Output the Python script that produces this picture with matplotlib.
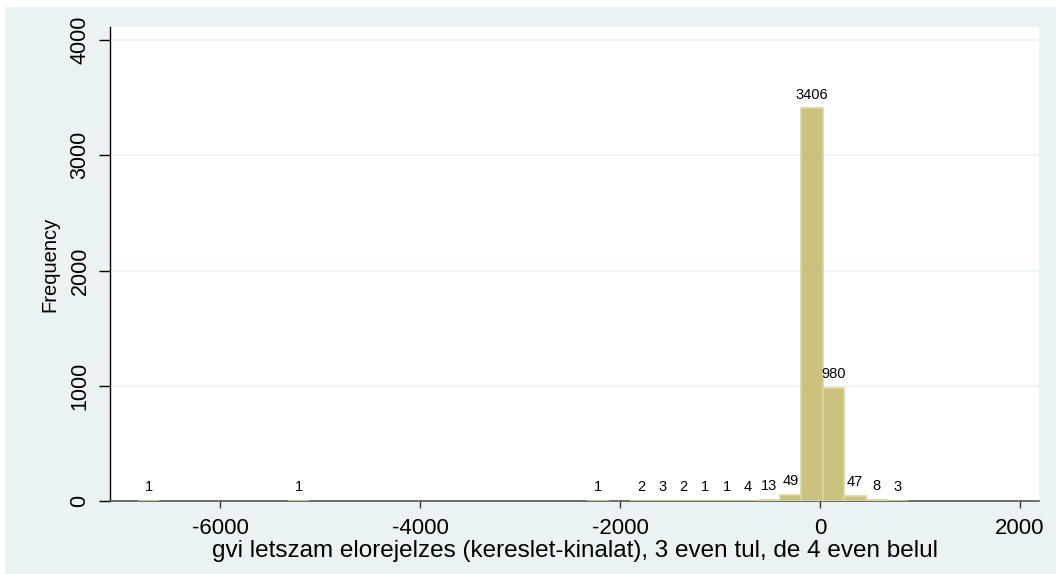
import matplotlib.pyplot as plt
import numpy as np

# Histogram data
bin_start = -6820
bin_width = 214
counts = [1, 0, 0, 0, 0, 0, 0, 1, 0, 0, 0, 0, 0, 0, 0, 0, 0, 0, 0, 0, 0,
          1, 0, 2, 3, 2, 1, 1, 4, 13, 49, 3406, 980, 47, 8, 3]
x_ticks = [-6000, -4000, -2000, 0, 2000]
y_ticks = [0, 1000, 2000, 3000, 4000]
x_label = "gvi letszam elorejelzes (kereslet-kinalat), 3 even tul, de 4 even belul"
y_label = "Frequency"

plt.rcParams['font.family'] = ['Liberation Sans', 'DejaVu Sans']

bg = '#EAF2F3'
bar_fill = '#CAC27E'
bar_edge = '#DAD5A4'

fig = plt.figure(figsize=(10.56, 5.74), dpi=100)
fig.patch.set_facecolor('white')
# light outer background like Stata's graph region
outer = plt.Rectangle((5 / 1056, 0), 1, 1 - 7 / 574, transform=fig.transFigure,
                      facecolor=bg, edgecolor='none', zorder=-10)
fig.add_artist(outer)

ax = fig.add_axes([110 / 1056, 1 - 501 / 574, (1039 - 110) / 1056, (501 - 27) / 574])
ax.set_zorder(1)
ax.set_facecolor('white')

counts = np.array(counts)
lefts = bin_start + bin_width * np.arange(len(counts))
mask = counts > 0
bars = ax.bar(lefts[mask], counts[mask], width=bin_width, align='edge',
              color=bar_fill, edgecolor=bar_edge, linewidth=1.2, zorder=3)
for b, c in zip(bars, counts[mask]):
    ax.annotate(str(c), (b.get_x() + b.get_width() / 2, b.get_height()),
                xytext=(0, 5), textcoords='offset points', ha='center', va='bottom',
                fontsize=10.5, color='black', zorder=4)

ax.set_xlim(-7100, 2190)
ax.set_ylim(0, 4113)
ax.set_xticks(x_ticks)
ax.set_yticks(y_ticks)
ax.set_xticklabels([str(v) for v in x_ticks], fontsize=16)
ax.set_yticklabels([str(v) for v in y_ticks], fontsize=15.5, rotation=90, va='center')

ax.yaxis.grid(True, color=bg, linewidth=1.2, zorder=1)
ax.set_axisbelow(True)

for s in ['top', 'right']:
    ax.spines[s].set_visible(False)
ax.spines['left'].set_color('black')
ax.spines['left'].set_linewidth(1.0)
ax.spines['bottom'].set_color('#555555')
ax.spines['bottom'].set_linewidth(1.2)

ax.tick_params(axis='y', length=8, width=1, color='black', pad=6)
ax.tick_params(axis='x', length=5, width=1, color='#333333', pad=7)

ax.set_xlabel(x_label, fontsize=17.5, labelpad=1)
ax.set_ylabel(y_label, fontsize=14.5, labelpad=7)

fig.savefig('out.png', dpi=100)
